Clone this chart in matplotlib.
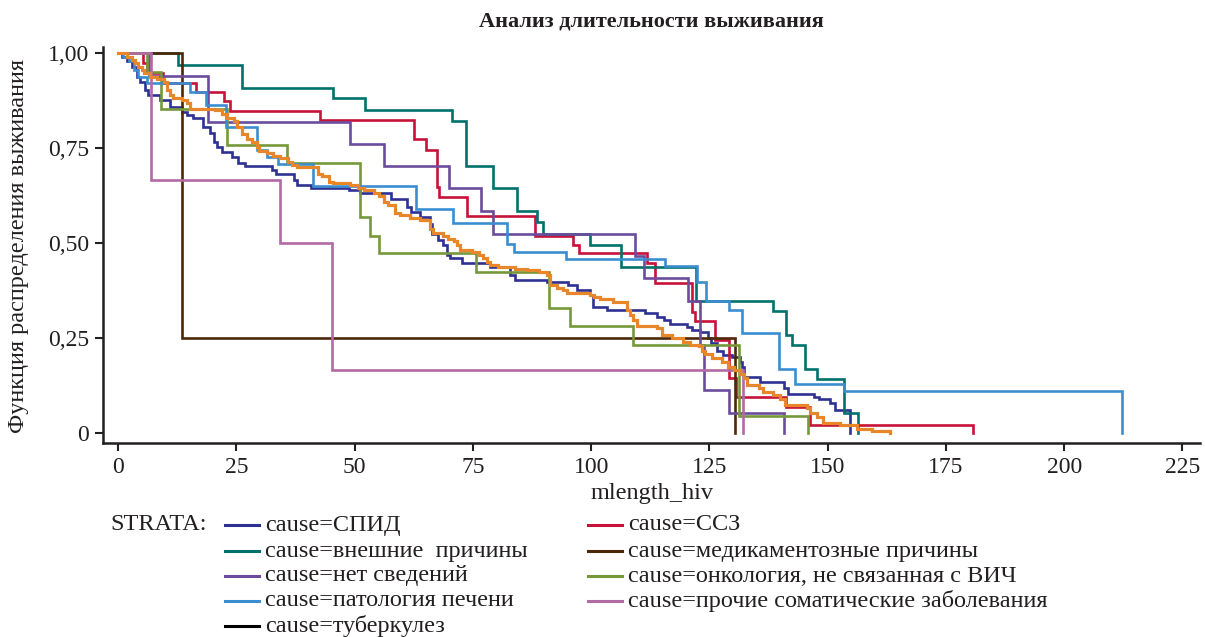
import matplotlib
matplotlib.use("Agg")
import matplotlib.pyplot as plt
from matplotlib.lines import Line2D

plt.rcParams['font.family'] = ['Liberation Serif', 'DejaVu Serif']

# survival curves (time in months, survival)
aids_t = [0, 0.8, 1.8, 2.9, 4.0, 4.7, 5.7, 6.4, 8.9, 11.0, 13.5, 14.5, 15.9, 18.0, 19.5, 20.2,
          20.9, 21.9, 24.0, 25.4, 26.8, 32.5, 33.4, 37.2, 37.9, 40.8, 48.7, 51.2, 57.7, 61.0,
          62.0, 63.9, 66.0, 66.4, 67.7, 68.6, 69.6, 70.2, 72.6, 78.6, 82.9, 83.9, 90.6, 95.2,
          97.0, 99.8, 100.4, 103.3, 111.4, 113.9, 115.3, 116.7, 120.2, 121.3, 123.0, 124.6,
          125.4, 126.5, 127.8, 129.8, 131.4, 131.9, 132.2, 135.6, 140.7, 141.7, 147.0, 148.1,
          150.5, 151.6, 154.8]
aids_s = [1.0, 0.991, 0.978, 0.964, 0.938, 0.925, 0.903, 0.889, 0.876, 0.859, 0.846, 0.837,
          0.828, 0.806, 0.789, 0.767, 0.754, 0.740, 0.727, 0.710, 0.704, 0.692, 0.683, 0.667,
          0.654, 0.646, 0.639, 0.633, 0.616, 0.596, 0.583, 0.569, 0.550, 0.525, 0.508, 0.494,
          0.470, 0.460, 0.448, 0.438, 0.416, 0.403, 0.398, 0.389, 0.376, 0.363, 0.331, 0.324,
          0.317, 0.306, 0.297, 0.286, 0.278, 0.271, 0.265, 0.250, 0.236, 0.215, 0.205, 0.200,
          0.188, 0.175, 0.148, 0.135, 0.118, 0.104, 0.096, 0.089, 0.080, 0.061, 0.0]

cvd_t = [0, 5.2, 6.0, 9.5, 16.5, 22.3, 23.7, 42.7, 62.5, 65.0, 67.4, 67.8, 73.8, 88.2, 96.1,
         97.5, 111.8, 113.5, 121.3, 122.0, 126.1, 129.2, 130.7, 141.2, 146.3, 180.8]
cvd_s = [1.0, 0.973, 0.947, 0.920, 0.898, 0.874, 0.848, 0.824, 0.773, 0.746, 0.648, 0.622,
         0.571, 0.518, 0.495, 0.473, 0.448, 0.396, 0.319, 0.296, 0.245, 0.144, 0.096, 0.069,
         0.021, 0.0]

ext_t = [0, 12.7, 26.1, 45.5, 52.1, 70.5, 73.6, 79.3, 84.4, 88.5, 89.9, 99.8, 106.3, 122.2,
         138.4, 141.2, 142.4, 145.2, 147.8, 153.5, 156.4]
ext_s = [1.0, 0.968, 0.907, 0.881, 0.850, 0.822, 0.703, 0.646, 0.584, 0.556, 0.525, 0.495,
         0.436, 0.347, 0.322, 0.258, 0.232, 0.170, 0.142, 0.054, 0.0]

drug_t = [0, 13.5, 130.5]
drug_s = [1.0, 0.25, 0.0]

unk_t = [0, 6.5, 19.0, 49.0, 56.1, 70.0, 76.7, 79.3, 109.2, 111.1, 120.4, 123.0, 123.8,
         129.2, 140.8]
unk_s = [1.0, 0.940, 0.819, 0.761, 0.702, 0.646, 0.584, 0.525, 0.467, 0.407, 0.348, 0.232,
         0.113, 0.053, 0.0]

onc_t = [0, 6.2, 9.0, 23.0, 35.7, 51.1, 53.2, 55.2, 75.7, 91.0, 95.6, 108.9, 131.2, 145.9]
onc_s = [1.0, 0.951, 0.854, 0.758, 0.710, 0.569, 0.518, 0.473, 0.423, 0.330, 0.282, 0.233,
         0.045, 0.0]

liver_t = [0, 1.1, 2.2, 3.3, 4.3, 6.1, 15.2, 18.5, 22.9, 29.4, 31.4, 33.7, 41.2, 63.0, 70.8,
           82.3, 83.7, 94.7, 115.5, 122.3, 124.3, 129.2, 131.8, 139.7, 143.1, 153.5, 212.2]
liver_s = [1.0, 0.990, 0.978, 0.955, 0.938, 0.922, 0.898, 0.863, 0.806, 0.745, 0.727, 0.708,
           0.649, 0.591, 0.553, 0.497, 0.477, 0.458, 0.439, 0.398, 0.347, 0.324, 0.264, 0.168,
           0.129, 0.111, 0.0]

soma_t = [0, 6.9, 34.2, 45.2, 132.1]
soma_s = [1.0, 0.667, 0.500, 0.167, 0.0]

tb_t = [0, 1.8, 2.9, 3.6, 4.3, 5.0, 5.4, 6.8, 8.2, 9.6, 10.3, 11.0, 11.7, 13.5, 14.5, 15.2,
        20.5, 21.9, 23.0, 24.4, 25.2, 26.2, 27.2, 28.3, 29.3, 29.8, 31.4, 32.8, 34.2, 36.0,
        36.7, 37.8, 42.3, 43.1, 44.5, 45.5, 49.0, 50.7, 52.0, 54.0, 55.1, 56.2, 57.1, 58.5,
        59.6, 61.7, 63.8, 66.0, 66.5, 68.6, 69.8, 71.0, 71.7, 72.3, 74.8, 76.2, 77.2, 77.9,
        78.6, 80.4, 83.9, 86.4, 88.9, 90.6, 91.3, 92.7, 94.1, 94.9, 99.8, 100.5, 101.9, 104.7,
        107.5, 108.2, 108.9, 109.7, 113.9, 114.9, 117.1, 119.5, 120.9, 122.7, 123.4, 124.1,
        125.5, 127.6, 129.0, 130.1, 131.5, 132.2, 132.9, 135.4, 136.4, 138.5, 140.0, 141.0,
        145.6, 146.3, 147.7, 149.1, 152.6, 156.2, 159.3, 163.2]
tb_s = [1.0, 0.991, 0.982, 0.973, 0.964, 0.955, 0.947, 0.938, 0.933, 0.925, 0.903, 0.889,
        0.882, 0.876, 0.868, 0.854, 0.850, 0.841, 0.828, 0.822, 0.806, 0.787, 0.775, 0.765,
        0.752, 0.742, 0.736, 0.729, 0.723, 0.714, 0.705, 0.701, 0.683, 0.677, 0.661, 0.657,
        0.653, 0.646, 0.639, 0.633, 0.623, 0.607, 0.600, 0.580, 0.574, 0.565, 0.561, 0.536,
        0.527, 0.519, 0.512, 0.506, 0.494, 0.483, 0.477, 0.468, 0.460, 0.451, 0.442, 0.438,
        0.433, 0.429, 0.425, 0.416, 0.389, 0.381, 0.376, 0.368, 0.363, 0.359, 0.354, 0.346,
        0.324, 0.311, 0.297, 0.282, 0.276, 0.258, 0.249, 0.240, 0.232, 0.228, 0.217, 0.208,
        0.197, 0.188, 0.175, 0.166, 0.155, 0.144, 0.126, 0.118, 0.109, 0.100, 0.091, 0.075,
        0.065, 0.052, 0.043, 0.026, 0.021, 0.012, 0.006, 0.0]

labels = ["cause=СПИД", "cause=ССЗ", "cause=внешние  причины", "cause=медикаментозные причины",
          "cause=нет сведений", "cause=онкология, не связанная с ВИЧ", "cause=патология печени",
          "cause=прочие соматические заболевания", "cause=туберкулез"]
colors = ["#2e3192", "#c8123a", "#00716b", "#4d2808", "#6b4c9c", "#76983a", "#3a8ed0",
          "#b26aa5", "#e8862a"]
legend_colors = colors[:8] + ["#000000"]
curves = [(aids_t, aids_s), (cvd_t, cvd_s), (ext_t, ext_s), (drug_t, drug_s), (unk_t, unk_s),
          (onc_t, onc_s), (liver_t, liver_s), (soma_t, soma_s), (tb_t, tb_s)]

W, H = 1205, 637
fig = plt.figure(figsize=(W / 100, H / 100), dpi=100)
ax = fig.add_axes([103 / W, (H - 443) / H, (1200 - 103) / W, (443 - 47) / H])

for (t, s), c in zip(curves, colors):
    lw = 2.3 if c == "#e8862a" else 1.9
    ax.step(t, s, where='post', color=c, lw=lw, solid_joinstyle='miter')

ax.set_xlim(-3.2, 228.7)
ax.set_ylim(-0.026, 1.016)
ax.set_xticks(range(0, 226, 25))
ax.set_yticks([0, 0.25, 0.5, 0.75, 1.0])
ax.set_yticklabels(["0", "0,25", "0,50", "0,75", "1,00"])
for side in ["top", "right"]:
    ax.spines[side].set_visible(False)
for side in ["left", "bottom"]:
    ax.spines[side].set_linewidth(1.8)
    ax.spines[side].set_color("#231f20")
ax.tick_params(direction='out', length=6, width=1.5, color="#231f20",
               labelsize=17, labelcolor="#231f20", pad=4)

fig.text(651 / W, 1 - 22 / H, "Анализ длительности выживания", ha='center', va='center',
         fontsize=16, fontweight='bold', color="#231f20")
fig.text(19 / W, 1 - 246 / H, "Функция распределения выживания", rotation=90,
         ha='center', va='center', fontsize=17.5, color="#231f20")
fig.text(652 / W, 1 - 493 / H, "mlength_hiv", ha='center', va='center', fontsize=17.5,
         color="#231f20")

# legend laid out in two columns like the SAS output
fig.text(110 / W, 1 - 525 / H, "STRATA:", ha='left', va='center', fontsize=17.5,
         color="#231f20")
rows_y = [525, 551, 576, 601, 626]
col_x = [225, 588]
for i, (lab, c) in enumerate(zip(labels, legend_colors)):
    r, col = i // 2, i % 2
    y = 1 - rows_y[r] / H
    x0 = col_x[col]
    fig.add_artist(Line2D([x0 / W, (x0 + 34) / W], [y, y], color=c, lw=2.2))
    fig.text((x0 + 40) / W, y, lab, ha='left', va='center', fontsize=17.5, color="#231f20")

fig.savefig("out.png", dpi=100)
